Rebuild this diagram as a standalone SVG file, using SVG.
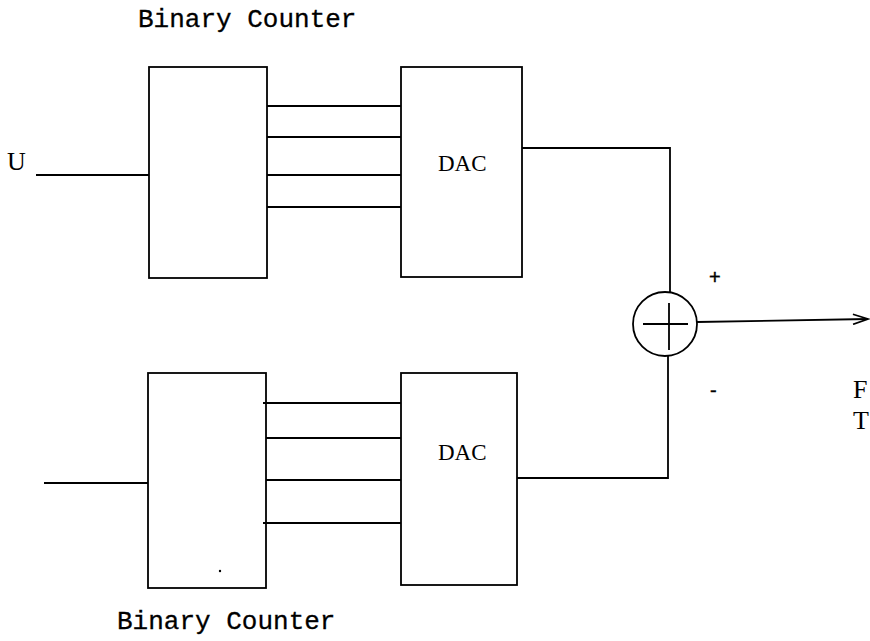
<svg xmlns="http://www.w3.org/2000/svg" width="870" height="641" viewBox="0 0 870 641">
<style>
.box{fill:none;stroke:#000;stroke-width:1.8}
.ln{fill:none;stroke:#000;stroke-width:1.8}
.mono{font-family:"Liberation Mono","DejaVu Sans Mono",monospace;font-size:26px;fill:#000;stroke:#000;stroke-width:0.3}
.serif{font-family:"Liberation Serif","DejaVu Serif",serif;font-size:23px;fill:#000}
.lbl{font-size:26px}
.sign{font-family:"Liberation Sans","DejaVu Sans",sans-serif;font-size:20px;stroke:#000;stroke-width:0.4}
</style>
<defs>
<marker id="arr" markerWidth="18" markerHeight="12" refX="16" refY="6" orient="auto" markerUnits="userSpaceOnUse">
<path d="M1,1 L16,6 L1,11" fill="none" stroke="#000" stroke-width="1.8"/>
</marker>
</defs>
<rect width="870" height="641" fill="#fff"/>
<text class="mono" x="138" y="27">Binary Counter</text>
<text class="mono" x="117" y="629">Binary Counter</text>
<g id="counter1"><rect class="box" x="149" y="67" width="118" height="211"/></g>
<g id="dac1"><rect class="box" x="401" y="67" width="121" height="210"/><text class="serif" x="438" y="171">DAC</text></g>
<g id="counter2"><rect class="box" x="148" y="373" width="118" height="215"/><circle cx="220" cy="571" r="1.2" fill="#000"/></g>
<g id="dac2"><rect class="box" x="401" y="373" width="116" height="212"/><text class="serif" x="438" y="460">DAC</text></g>
<g id="sum"><circle class="box" cx="665" cy="324" r="32"/><path class="ln" d="M643,324 H688 M669,303 V350"/></g>
<g id="labels">
<text class="serif lbl" x="7" y="170">U</text>
<text class="serif lbl" x="853" y="398">F</text>
<text class="serif lbl" x="853" y="429">T</text>
<text class="sign" x="709" y="284">+</text>
<text class="sign" x="710" y="397">-</text>
</g>
<g id="connectors">
<path class="ln" d="M36,175 H149"/>
<path class="ln" d="M267,106 H401 M267,137 H401 M267,175 H401 M267,207 H401"/>
<path class="ln" d="M263,403 H401 M266,438 H401 M266,480 H401 M263,523 H401"/>
<path class="ln" d="M44,483 H148"/>
<path class="ln" d="M522,148 H670 V292"/>
<path class="ln" d="M517,478 H668 V356"/>
<path class="ln" d="M697,322 L868,319" marker-end="url(#arr)"/>
</g>
</svg>
